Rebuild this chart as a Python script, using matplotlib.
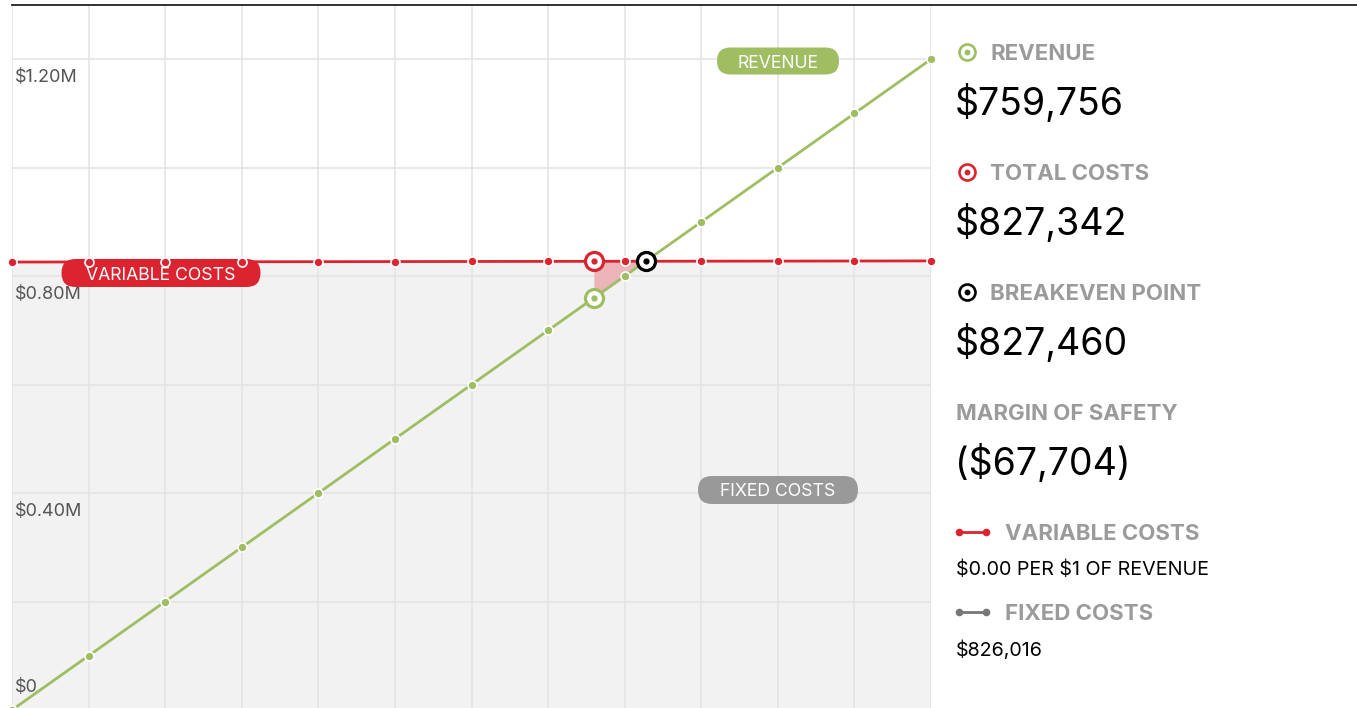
import matplotlib
matplotlib.use("Agg")
import matplotlib.pyplot as plt
from matplotlib.patches import FancyBboxPatch
from matplotlib.lines import Line2D
from matplotlib.transforms import Affine2D

plt.rcParams['font.family'] = ['Inter', 'DejaVu Sans']

# ---------------- data ----------------
revenue_levels = [0, 100000, 200000, 300000, 400000, 500000, 600000,
                  700000, 800000, 900000, 1000000, 1100000, 1200000]
revenue_values = [0, 100000, 200000, 300000, 400000, 500000, 600000,
                  700000, 800000, 900000, 1000000, 1100000, 1200000]
total_cost_values = [826016, 826190, 826365, 826540, 826714, 826889, 827063,
                     827238, 827412, 827587, 827761, 827936, 828110]
fixed_costs = 826016
current_revenue = 759756
current_total_costs = 827342
breakeven_point = 827460
margin_of_safety = -67704
variable_rate = 0.00

y_ticks = [0, 400000, 800000, 1200000]
y_tick_labels = ['$0', '$0.40M', '$0.80M', '$1.20M']
y_grid = [0, 200000, 400000, 600000, 800000, 1000000, 1200000]

GREEN = '#9fbe62'
RED = '#dc2430'
GRAY = '#999999'
LABEL_GRAY = '#9b9b9b'

W, H = 1357, 708
fig = plt.figure(figsize=(W / 100, H / 100), dpi=100)
fig.patch.set_facecolor('white')
# pixel transform: (x from left, y from top) in pixels
PIX = Affine2D().scale(1, -1).translate(0, H)

# ---------------- main axes ----------------
ax_left, ax_right = 12, 931
ax_top, ax_bottom = 5, 710
ax = fig.add_axes([ax_left / W, (H - ax_bottom) / H,
                   (ax_right - ax_left) / W, (ax_bottom - ax_top) / H])
ax.set_xlim(0, 1200000)
ax.set_ylim(0, 1300000)
for s in ax.spines.values():
    s.set_visible(False)
ax.set_xticks(revenue_levels)
ax.set_yticks(y_grid)
ax.tick_params(length=0, labelleft=False, labelbottom=False)
ax.set_axisbelow(True)
ax.grid(True, color='#e3e3e3', linewidth=1.1)

# fixed costs area
ax.fill_between(revenue_levels, 0, fixed_costs, color='#f2f2f2', zorder=0.2, linewidth=0)

# loss wedge between revenue point and breakeven
ax.fill_between([current_revenue, breakeven_point],
                [current_revenue, breakeven_point],
                [current_total_costs, breakeven_point],
                color='#ecb5ba', zorder=2, linewidth=0)

# y tick labels inside plot
for v, lab in zip(y_ticks, y_tick_labels):
    dy = 22 if v == 0 else -18
    ax.annotate(lab, xy=(0, v), xytext=(3, dy), textcoords='offset pixels',
                ha='left', va='center', fontsize=13, color='#555555', zorder=3,
                parse_math=False)

# pills
def pill(cx, cy, w, h, color, text, fs=12.7):
    p = FancyBboxPatch((cx - w / 2, cy - h / 2), w, h,
                       boxstyle='round,pad=0,rounding_size=%f' % (h / 2),
                       transform=PIX, facecolor=color, edgecolor='none', zorder=3,
                       clip_on=False)
    ax.add_patch(p)
    ax.text(cx, cy + 2, text, transform=PIX, ha='center', va='center', color='white',
            fontsize=fs, fontweight='normal', zorder=4, clip_on=False)

pill(778, 61, 122, 27, GREEN, 'REVENUE')
pill(161, 273, 199, 28, RED, 'VARIABLE COSTS')
pill(778, 490, 160, 28, GRAY, 'FIXED COSTS')

# lines
ax.plot(revenue_levels, total_cost_values, color=RED, lw=2, marker='o', ms=6.5,
        mfc=RED, mec='white', mew=1.2, zorder=5, clip_on=False)
ax.plot(revenue_levels, revenue_values, color=GREEN, lw=2, marker='o', ms=6.5,
        mfc=GREEN, mec='white', mew=1.2, zorder=5, clip_on=False)

# special markers
def ring(axis, x, y, color, big=13, small=4.5, z=7):
    axis.plot([x], [y], marker='o', ms=big, mfc='white', mec=color, mew=2.3,
              zorder=z, clip_on=False)
    axis.plot([x], [y], marker='o', ms=small, mfc=color, mec=color, mew=0,
              zorder=z + 0.1, clip_on=False)

ring(ax, current_revenue, current_revenue, GREEN)
ring(ax, current_revenue, current_total_costs, RED)
ring(ax, breakeven_point, breakeven_point, 'black')

# top rule
fig.add_artist(Line2D([12, 1357], [5, 5], transform=PIX, color='#222222', lw=1.3))

# ---------------- right panel ----------------
def fmt_money(v):
    s = '${:,.0f}'.format(abs(v))
    return '(' + s + ')' if v < 0 else s

def legend_ring(x, y, color):
    for ms, mfc, mew in [(11.5, 'white', 1.9), (4.2, color, 0)]:
        fig.add_artist(Line2D([x], [y], transform=PIX, marker='o', ms=ms, mfc=mfc,
                              mec=color, mew=mew, linestyle='none'))

def legend_line(y, color):
    fig.add_artist(Line2D([959, 986], [y, y], transform=PIX, color=color, lw=2,
                          marker='o', ms=5.5, mfc=color, mec=color, mew=0))

def rtext(x, y, s, fs, color, bold=False):
    fig.text(x, y, s, transform=PIX, fontsize=fs, fontweight='bold' if bold else 'normal',
             color=color, va='center', ha='left', parse_math=False)

LBL_FS = 16
VAL_FS = 27
SUB_FS = 14.2

legend_ring(967, 52, GREEN)
rtext(990, 54, 'REVENUE', LBL_FS, LABEL_GRAY, True)
rtext(955, 103, fmt_money(current_revenue), VAL_FS, 'black')

legend_ring(967, 172, RED)
rtext(990, 174, 'TOTAL COSTS', LBL_FS, LABEL_GRAY, True)
rtext(955, 223, fmt_money(current_total_costs), VAL_FS, 'black')

legend_ring(967, 292, 'black')
rtext(990, 294, 'BREAKEVEN POINT', LBL_FS, LABEL_GRAY, True)
rtext(955, 343, fmt_money(breakeven_point), VAL_FS, 'black')

rtext(956, 414, 'MARGIN OF SAFETY', LBL_FS, LABEL_GRAY, True)
rtext(955, 463, fmt_money(margin_of_safety), VAL_FS, 'black')

legend_line(532, RED)
rtext(1005, 534, 'VARIABLE COSTS', LBL_FS, LABEL_GRAY, True)
rtext(956, 570, '${:.2f} PER $1 OF REVENUE'.format(variable_rate), SUB_FS, 'black')

legend_line(612, '#777777')
rtext(1005, 614, 'FIXED COSTS', LBL_FS, LABEL_GRAY, True)
rtext(956, 650, fmt_money(fixed_costs), SUB_FS, 'black')

fig.savefig('out.png', dpi=100)
